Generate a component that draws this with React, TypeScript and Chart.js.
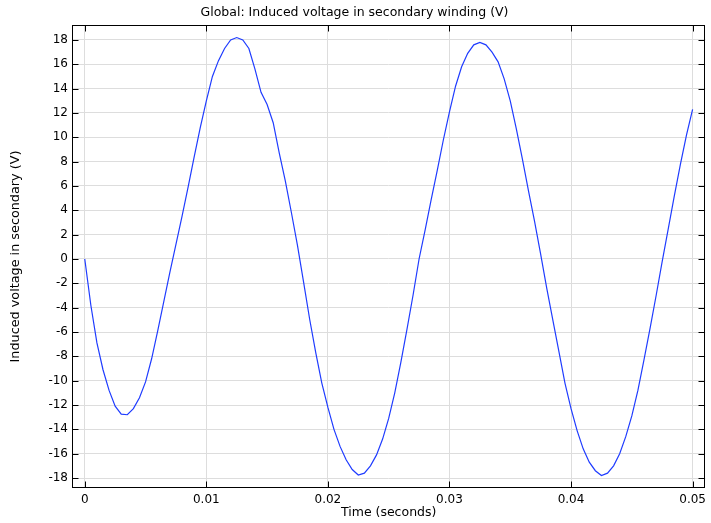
import React, { useEffect, useRef } from "react";
import { Chart, registerables } from "chart.js";

Chart.register(...registerables);

const TITLE = "Global: Induced voltage in secondary winding (V)";
const X_LABEL = "Time (seconds)";
const Y_LABEL = "Induced voltage in secondary (V)";

const timeValues = [
  0, 0.0005, 0.001, 0.0015, 0.002, 0.0025, 0.003, 0.0035, 0.004, 0.0045,
  0.005, 0.0055, 0.006, 0.0065, 0.007, 0.0075, 0.008, 0.0085, 0.009, 0.0095,
  0.01, 0.0105, 0.011, 0.0115, 0.012, 0.0125, 0.013, 0.0135, 0.014, 0.0145,
  0.015, 0.0155, 0.016, 0.0165, 0.017, 0.0175, 0.018, 0.0185, 0.019, 0.0195,
  0.02, 0.0205, 0.021, 0.0215, 0.022, 0.0225, 0.023, 0.0235, 0.024, 0.0245,
  0.025, 0.0255, 0.026, 0.0265, 0.027, 0.0275, 0.028, 0.0285, 0.029, 0.0295,
  0.03, 0.0305, 0.031, 0.0315, 0.032, 0.0325, 0.033, 0.0335, 0.034, 0.0345,
  0.035, 0.0355, 0.036, 0.0365, 0.037, 0.0375, 0.038, 0.0385, 0.039, 0.0395,
  0.04, 0.0405, 0.041, 0.0415, 0.042, 0.0425, 0.043, 0.0435, 0.044, 0.0445,
  0.045, 0.0455, 0.046, 0.0465, 0.047, 0.0475, 0.048, 0.0485, 0.049, 0.0495,
  0.05,
];

const voltageValues = [
  0, -3.8, -6.9, -9.1, -10.8, -12.1, -12.75, -12.8, -12.3, -11.4,
  -10.1, -8.2, -5.9, -3.5, -1.1, 1.2, 3.5, 5.9, 8.4, 10.8,
  13.0, 15.0, 16.3, 17.3, 18.0, 18.2, 18.0, 17.3, 15.6, 13.7,
  12.7, 11.2, 8.7, 6.4, 3.8, 1.1, -1.9, -4.95, -7.7, -10.2,
  -12.2, -14.0, -15.4, -16.5, -17.3, -17.75, -17.6, -17.0, -16.1, -14.8,
  -13.1, -11.0, -8.5, -5.8, -3.0, 0.0, 2.4, 4.9, 7.3, 9.8,
  12.1, 14.2, 15.8, 16.9, 17.6, 17.8, 17.6, 17.0, 16.2, 14.8,
  13.0, 10.7, 8.2, 5.6, 3.1, 0.4, -2.4, -5.0, -7.6, -10.2,
  -12.3, -14.1, -15.6, -16.7, -17.4, -17.8, -17.6, -17.0, -16.0, -14.6,
  -12.9, -10.8, -8.3, -5.7, -3.0, -0.2, 2.5, 5.2, 7.8, 10.2,
  12.3,
];

const xTickValues = [0, 0.01, 0.02, 0.03, 0.04, 0.05];
const xTickLabels = ["0", "0.01", "0.02", "0.03", "0.04", "0.05"];
const yTickValues = [-18, -16, -14, -12, -10, -8, -6, -4, -2, 0, 2, 4, 6, 8, 10, 12, 14, 16, 18];
const yTickLabels = ["-18", "-16", "-14", "-12", "-10", "-8", "-6", "-4", "-2", "0", "2", "4", "6", "8", "10", "12", "14", "16", "18"];

const X_MIN = -0.00105;
const X_MAX = 0.05105;
const Y_MIN = -18.82;
const Y_MAX = 19.23;

const FONT = "'DejaVu Sans', sans-serif";

const frameTicksPlugin = {
  id: "frameTicks",
  afterDatasetsDraw(chart: any) {
    const { ctx, chartArea } = chart;
    const { left, right, top, bottom } = chartArea;
    const xs = chart.scales.x;
    const ys = chart.scales.y;
    const L = Math.round(left) + 0.5;
    const R = Math.round(right) - 0.5;
    const T = Math.round(top) + 0.5;
    const B = Math.round(bottom) - 0.5;
    const len = 6;
    ctx.save();
    ctx.strokeStyle = "#000000";
    ctx.lineWidth = 1;
    ctx.beginPath();
    for (const v of xTickValues) {
      const px = Math.round(xs.getPixelForValue(v)) + 0.5;
      ctx.moveTo(px, B);
      ctx.lineTo(px, B - len);
      ctx.moveTo(px, T);
      ctx.lineTo(px, T + len);
    }
    for (const v of yTickValues) {
      const py = Math.round(ys.getPixelForValue(v)) + 0.5;
      ctx.moveTo(L, py);
      ctx.lineTo(L + len, py);
      ctx.moveTo(R, py);
      ctx.lineTo(R - len, py);
    }
    ctx.stroke();
    ctx.strokeRect(L, T, R - L, B - T);
    ctx.restore();
  },
};

export default function App() {
  const canvasRef = useRef<HTMLCanvasElement | null>(null);

  useEffect(() => {
    document.body.style.margin = "0";
    const canvas = canvasRef.current;
    if (!canvas) return;
    const points = timeValues.map((t, i) => ({ x: t, y: voltageValues[i] }));
    const chart = new Chart(canvas, {
      type: "line",
      data: {
        datasets: [
          {
            label: "Induced voltage",
            data: points,
            borderColor: "#1f3cff",
            borderWidth: 1.2,
            pointRadius: 0,
            tension: 0,
            fill: false,
          },
        ],
      },
      options: {
        animation: false,
        responsive: false,
        devicePixelRatio: 1,
        layout: { padding: { top: 0, left: 0, right: 2, bottom: 0 } },
        plugins: {
          legend: { display: false },
          tooltip: { enabled: false },
          title: {
            display: true,
            text: TITLE,
            color: "#000000",
            font: { family: FONT, size: 12.5, weight: "normal" },
            padding: { top: 5.5, bottom: 4.5 },
          },
        },
        scales: {
          x: {
            type: "linear",
            min: X_MIN,
            max: X_MAX,
            afterBuildTicks: (scale: any) => {
              scale.ticks = xTickValues.map((v) => ({ value: v }));
            },
            afterFit: (scale: any) => {
              scale.height = 35;
            },
            ticks: {
              autoSkip: false,
              maxRotation: 0,
              padding: 5,
              color: "#000000",
              font: { family: FONT, size: 12 },
              callback: (_v: any, i: number) => xTickLabels[i],
            },
            grid: { color: "#dddddd", lineWidth: 1, drawTicks: false },
            border: { display: false },
            title: {
              display: true,
              text: X_LABEL,
              color: "#000000",
              font: { family: FONT, size: 12.5 },
              padding: { top: 0, bottom: 3 },
            },
          },
          y: {
            type: "linear",
            min: Y_MIN,
            max: Y_MAX,
            afterBuildTicks: (scale: any) => {
              scale.ticks = yTickValues.map((v) => ({ value: v }));
            },
            afterFit: (scale: any) => {
              scale.width = 72;
            },
            ticks: {
              autoSkip: false,
              padding: 4,
              color: "#000000",
              font: { family: FONT, size: 12 },
              callback: (_v: any, i: number) => yTickLabels[i],
            },
            grid: { color: "#dddddd", lineWidth: 1, drawTicks: false },
            border: { display: false },
            title: {
              display: true,
              text: Y_LABEL,
              color: "#000000",
              font: { family: FONT, size: 12.8 },
              padding: { top: 7.5, bottom: 0 },
            },
          },
        },
      },
      plugins: [frameTicksPlugin],
    } as any);
    return () => chart.destroy();
  }, []);

  return (
    <div style={{ position: "absolute", left: 0, top: 0, width: 711, height: 523, background: "#ffffff" }}>
      <canvas ref={canvasRef} width={711} height={523} style={{ display: "block", width: 711, height: 523 }} />
    </div>
  );
}
